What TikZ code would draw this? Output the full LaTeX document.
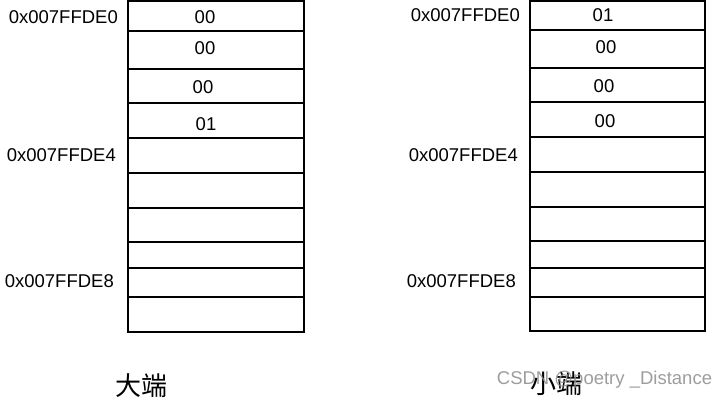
\documentclass[tikz,border=0pt]{standalone}
\usepackage{fontspec}
\setmainfont{Liberation Sans}
\newfontfamily\cjk{Noto Sans CJK SC}
\begin{document}
\begin{tikzpicture}[x=1pt,y=-1pt,
  cell/.style={draw, line width=2.8pt, rectangle, inner sep=0pt},
  val/.style={font=\fontsize{18.5}{18.5}\selectfont, inner sep=0pt},
  addr/.style={font=\fontsize{18.5}{18.5}\selectfont, inner sep=0pt, anchor=east},
  captxt/.style={font=\cjk\fontsize{26}{26}\selectfont, inner sep=0pt},
  wm/.style={font=\fontsize{18.5}{18.5}\selectfont, inner sep=0pt, text=black!45, opacity=0.85}]
\useasboundingbox (0,0) rectangle (727,400);
% left column (big endian)
\foreach \a/\b [count=\i] in {1/31,31/69,69/103,103/138,138/173,173/208,208/242,242/268,268/297,297/332}
  \node[cell, minimum width=176pt, minimum height={(\b-\a)*1pt}] (L\i) at (216,{(\a+\b)/2}) {};
% right column (little endian)
\foreach \a/\b [count=\i] in {1/30,30/68,68/102,102/137,137/172,172/207,207/241,241/268,268/297,297/331}
  \node[cell, minimum width=175pt, minimum height={(\b-\a)*1pt}] (R\i) at (617.5,{(\a+\b)/2}) {};
% values
\node[val] (lv1) at (205,17) {00};
\node[val] (lv2) at (205,48) {00};
\node[val] (lv3) at (203,87) {00};
\node[val] (lv4) at (206,124) {01};
\node[val] (rv1) at (603,15) {01};
\node[val] (rv2) at (606,47) {00};
\node[val] (rv3) at (604,86) {00};
\node[val] (rv4) at (605,121) {00};
% addresses
\node[addr] (la0) at (118,17) {0x007FFDE0};
\node[addr] (la4) at (116,155) {0x007FFDE4};
\node[addr] (la8) at (114,281) {0x007FFDE8};
\node[addr] (ra0) at (520,15) {0x007FFDE0};
\node[addr] (ra4) at (518,155) {0x007FFDE4};
\node[addr] (ra8) at (516,281) {0x007FFDE8};
% captions
\node[captxt] (big) at (141.5,385.5) {大端};
\node[captxt] (little) at (556,384) {小端};
\node[wm] (mark) at (604.5,380) {CSDN @poetry \_Distance};
\end{tikzpicture}
\end{document}
